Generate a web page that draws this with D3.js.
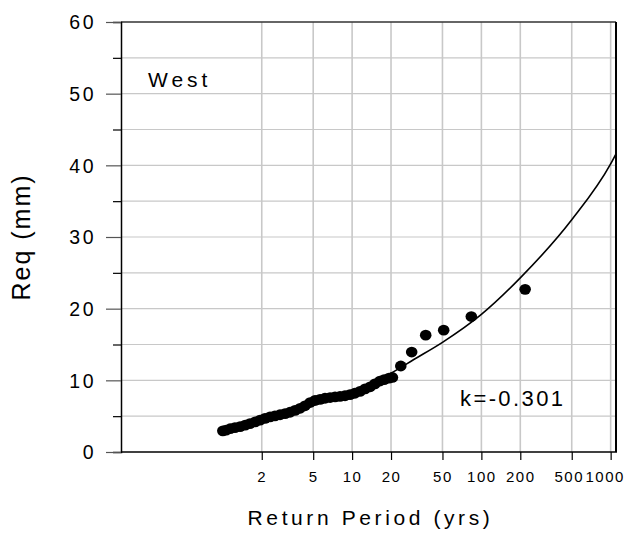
<!DOCTYPE html>
<html>
<head>
<meta charset="utf-8">
<script src="https://cdn.jsdelivr.net/npm/d3@7"></script>
<style>
  body { margin: 0; background: #fff; }
  text { font-family: "Liberation Sans", Arial, sans-serif; fill: #000; }
</style>
</head>
<body>
<svg id="chart"></svg>
<script>
const obsT = [1.00, 1.06, 1.14, 1.24, 1.36, 1.49, 1.62, 1.78, 1.94, 2.12, 2.32, 2.53, 2.77,
  3.03, 3.31, 3.62, 3.96, 4.32, 4.73, 5.17, 5.65, 6.17, 6.75, 7.38, 8.06, 8.81, 9.63,
  10.5, 11.5, 12.6, 13.8, 15.0, 16.4, 17.7, 19.3, 20.5, 23.8, 28.9, 37.1, 51.1, 83.6, 218];
const obsReq = [2.95, 3.05, 3.25, 3.4, 3.55, 3.75, 3.95, 4.2, 4.45, 4.7, 4.9, 5.05, 5.2,
  5.35, 5.55, 5.8, 6.1, 6.45, 6.9, 7.2, 7.35, 7.5, 7.6, 7.7, 7.75, 7.85, 8.0,
  8.2, 8.45, 8.8, 9.1, 9.5, 9.9, 10.1, 10.3, 10.4, 12.0, 13.95, 16.3, 17.0, 18.9, 22.7];

// Fitted curve (k=-0.301)
const fitT = [1.3, 2, 5, 10, 20, 30, 50, 100, 200, 500, 1000, 1100];
const fitReq = [3.2, 4.3, 6.5, 8.5, 11.0, 12.9, 15.3, 19.2, 24.3, 32.4, 40.2, 41.6];

const xTicks = [2, 5, 10, 20, 50, 100, 200, 500, 1000];
const yTicks = d3.range(0, 61, 5);

const width = 634;
const height = 538;
const plotL = 121, plotR = 616, plotT = 22, plotB = 452;

const svg = d3.select('#chart')
  .attr('width', width)
  .attr('height', height);

const x = d3.scaleLog().domain([0.163, 1100]).range([plotL, plotR]);
const y = d3.scaleLinear().domain([0, 60]).range([plotB, plotT]);

// grid
svg.append('g')
  .selectAll('line')
  .data(yTicks.filter(d => d > 0 && d < 60))
  .enter().append('line')
  .attr('x1', plotL).attr('x2', plotR)
  .attr('y1', d => y(d)).attr('y2', d => y(d))
  .attr('stroke', '#c8c8c8').attr('stroke-width', 1.2);

svg.append('g')
  .selectAll('line')
  .data(xTicks)
  .enter().append('line')
  .attr('x1', d => x(d)).attr('x2', d => x(d))
  .attr('y1', plotT).attr('y2', plotB)
  .attr('stroke', '#c8c8c8').attr('stroke-width', 1.6);

// fitted curve
const line = d3.line()
  .x((d, i) => x(fitT[i]))
  .y(d => y(d))
  .curve(d3.curveMonotoneX);

svg.append('path')
  .datum(fitReq)
  .attr('d', line)
  .attr('fill', 'none')
  .attr('stroke', '#000')
  .attr('stroke-width', 1.6);

// observed points
svg.append('g')
  .selectAll('ellipse')
  .data(obsReq)
  .enter().append('ellipse')
  .attr('cx', (d, i) => x(obsT[i]))
  .attr('cy', d => y(d))
  .attr('rx', 5.8)
  .attr('ry', 5.4)
  .attr('fill', '#000');

// frame
svg.append('line').attr('x1', plotL).attr('x2', plotR).attr('y1', plotT).attr('y2', plotT)
  .attr('stroke', '#333').attr('stroke-width', 1.3);
svg.append('line').attr('x1', plotR).attr('x2', plotR).attr('y1', plotT).attr('y2', plotB)
  .attr('stroke', '#000').attr('stroke-width', 2);

// y axis
const yAxis = svg.append('g')
  .attr('transform', `translate(${plotL},0)`)
  .call(d3.axisLeft(y).tickValues(yTicks).tickSize(8).tickFormat(d => d % 10 === 0 ? d : ''));
yAxis.select('.domain').attr('stroke', '#000').attr('stroke-width', 1.5);
yAxis.selectAll('.tick line').attr('stroke', '#000').attr('stroke-width', 1.2)
  .filter(d => d % 10 === 0).attr('x2', -15).attr('stroke', '#555');
yAxis.selectAll('.tick text')
  .attr('x', -25)
  .attr('dy', '0.35em')
  .style('font-size', '19.5px')
  .style('letter-spacing', '2.5px')
  .attr('fill', '#000');

// x axis
const xAxis = svg.append('g')
  .attr('transform', `translate(0,${plotB})`)
  .call(d3.axisBottom(x).tickValues(xTicks).tickSize(8).tickFormat(d3.format('d')));
xAxis.select('.domain').remove();
xAxis.selectAll('.tick line').attr('stroke', '#000').attr('stroke-width', 1.2);
xAxis.selectAll('.tick text')
  .attr('y', 30)
  .attr('dy', 0)
  .attr('dx', d => d === 500 ? -3 : d === 1000 ? -6 : 0)
  .style('font-size', '15px')
  .style('letter-spacing', '1.5px')
  .attr('fill', '#000');
svg.append('line').attr('x1', plotL).attr('x2', plotR + 1).attr('y1', plotB).attr('y2', plotB)
  .attr('stroke', '#000').attr('stroke-width', 1.5);

// labels
svg.append('text')
  .attr('x', (plotL + plotR) / 2 + 2)
  .attr('y', 525)
  .attr('text-anchor', 'middle')
  .style('font-size', '21px')
  .style('letter-spacing', '3.6px')
  .text('Return Period (yrs)');

svg.append('text')
  .attr('transform', `translate(30,${(plotT + plotB) / 2}) rotate(-90)`)
  .attr('text-anchor', 'middle')
  .style('font-size', '25px')
  .style('letter-spacing', '2px')
  .text('Req (mm)');

svg.append('text')
  .attr('x', 148)
  .attr('y', 87)
  .style('font-size', '21px')
  .style('letter-spacing', '4px')
  .text('West');

svg.append('text')
  .attr('x', 460)
  .attr('y', 406)
  .style('font-size', '22px')
  .style('letter-spacing', '2.4px')
  .text('k=-0.301');
</script>
</body>
</html>
